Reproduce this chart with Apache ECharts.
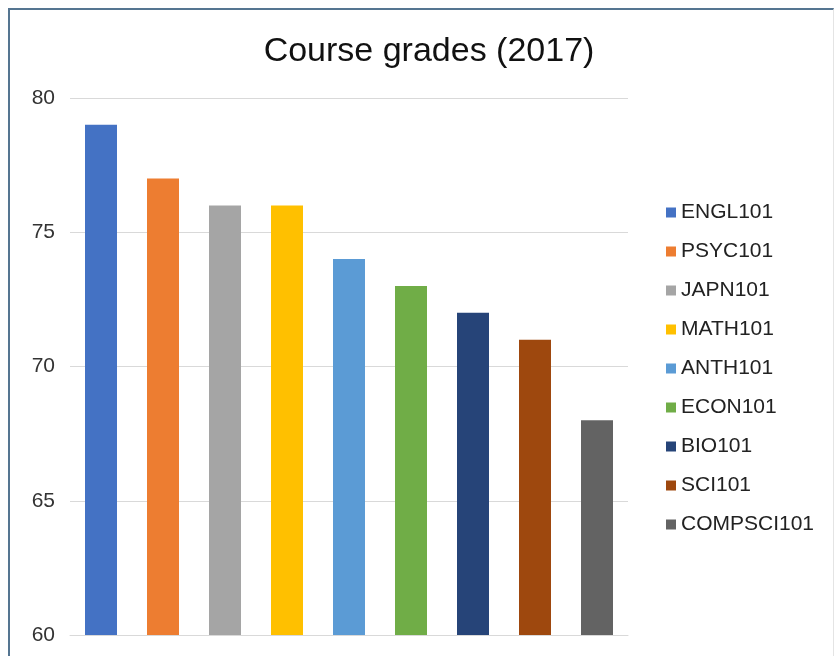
<!DOCTYPE html>
<html>
<head>
<meta charset="utf-8">
<script src="https://cdn.jsdelivr.net/npm/echarts@6/dist/echarts.min.js"></script>
<style>
  html, body { margin: 0; padding: 0; background: #fff; }
  #frame {
    position: absolute; left: 8px; top: 8px; width: 826px; height: 660px;
    border-top: 2px solid #557591; border-left: 2px solid #557591;
    border-right: 1px solid #e4e4e4; box-sizing: border-box;
  }
  #chart { position: absolute; left: 0; top: 0; width: 837px; height: 656px; }
</style>
</head>
<body>
<div id="frame"></div>
<div id="chart"></div>
<script>
var courses = ['ENGL101', 'PSYC101', 'JAPN101', 'MATH101', 'ANTH101', 'ECON101', 'BIO101', 'SCI101', 'COMPSCI101'];
var grades = [79, 77, 76, 76, 74, 73, 72, 71, 68];
var colors = ['#4472C4', '#ED7D31', '#A5A5A5', '#FFC000', '#5B9BD5', '#70AD47', '#264478', '#9E480E', '#636363'];
var yTicks = [60, 65, 70, 75, 80];

// one series per course so every bar gets its own legend entry
var series = courses.map(function (name, i) {
    var data = courses.map(function (c, j) { return j === i ? grades[i] : '-'; });
    return {
        name: name,
        type: 'bar',
        stack: 'all',
        barWidth: 32,
        data: data,
        itemStyle: { color: colors[i] }
    };
});

var chart = echarts.init(document.getElementById('chart'));
chart.setOption({
    animation: false,
    title: {
        text: 'Course grades (2017)',
        left: 424,
        textAlign: 'center',
        top: 30,
        textStyle: { fontFamily: 'Liberation Sans', fontSize: 34, fontWeight: 'normal', color: '#111' }
    },
    legend: {
        orient: 'vertical',
        left: 661,
        top: 197,
        itemWidth: 10,
        itemHeight: 10,
        itemGap: 18,
        icon: 'rect',
        data: courses,
        textStyle: { fontFamily: 'Liberation Sans', fontSize: 21, color: '#222' }
    },
    grid: { left: 70, right: 209, top: 98, bottom: 21 },
    xAxis: {
        type: 'category',
        data: courses,
        axisLine: { show: true, lineStyle: { color: '#d9d9d9' } },
        axisTick: { show: false },
        axisLabel: { show: false }
    },
    yAxis: {
        type: 'value',
        min: yTicks[0],
        max: yTicks[yTicks.length - 1],
        interval: 5,
        axisLine: { show: false },
        axisTick: { show: false },
        axisLabel: { margin: 15, fontFamily: 'Liberation Sans', fontSize: 21, color: '#333' },
        splitLine: { lineStyle: { color: '#d9d9d9', width: 1 } }
    },
    series: series
});
</script>
</body>
</html>
